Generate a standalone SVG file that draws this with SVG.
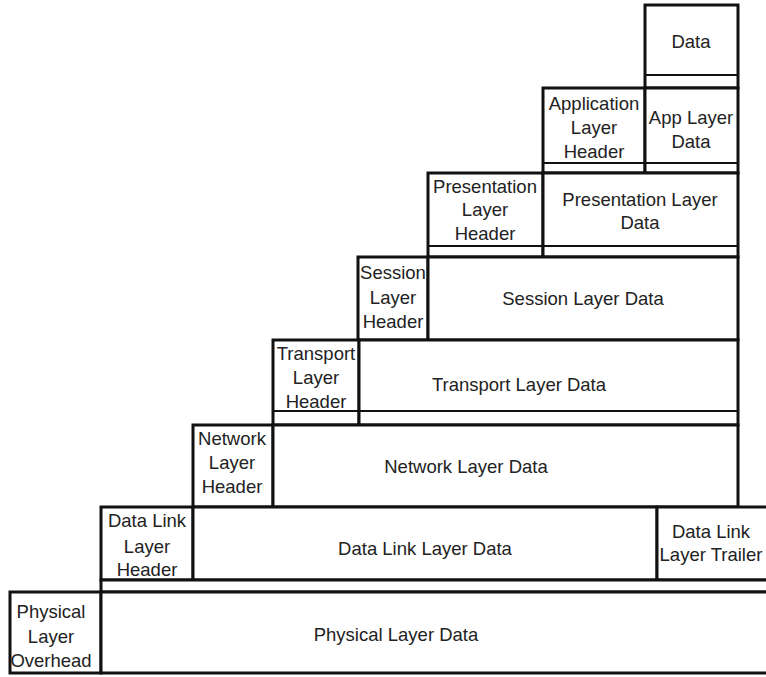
<svg xmlns="http://www.w3.org/2000/svg" width="766" height="677" viewBox="0 0 766 677">
<style>
.c{fill:#fff;stroke:#111;stroke-width:3}
.b{fill:none;stroke:#111;stroke-width:2.2}
text{font-family:"Liberation Sans",Arial,sans-serif;font-size:18.5px;fill:#222;text-anchor:middle}
</style>
<rect width="766" height="677" fill="#fff"/>
<g id="data">
<rect class="c" x="645" y="5" width="93" height="83"/>
<line class="b" x1="645" y1="75" x2="738" y2="75"/>
<text x="691" y="48">Data</text>
</g>
<g id="app-header">
<rect class="c" x="543" y="88" width="102" height="85"/>
<text x="594" y="110">Application</text>
<text x="594" y="134">Layer</text>
<text x="594" y="158">Header</text>
</g>
<g id="app-data">
<rect class="c" x="645" y="88" width="93" height="85"/>
<text x="691" y="124">App Layer</text>
<text x="691" y="148">Data</text>
</g>
<line class="b" x1="543" y1="163" x2="738" y2="163"/>
<g id="pres-header">
<rect class="c" x="428" y="173" width="115" height="84"/>
<text x="485" y="193">Presentation</text>
<text x="485" y="216">Layer</text>
<text x="485" y="240">Header</text>
</g>
<g id="pres-data">
<rect class="c" x="543" y="173" width="195" height="84"/>
<text x="640" y="206">Presentation Layer</text>
<text x="640" y="229">Data</text>
</g>
<line class="b" x1="428" y1="246" x2="738" y2="246"/>
<g id="session-header">
<rect class="c" x="358" y="257" width="70" height="83"/>
<text x="393" y="279">Session</text>
<text x="393" y="304">Layer</text>
<text x="393" y="328">Header</text>
</g>
<g id="session-data">
<rect class="c" x="428" y="257" width="310" height="83"/>
<text x="583" y="305">Session Layer Data</text>
</g>
<g id="transport-header">
<rect class="c" x="273" y="340" width="86" height="85"/>
<text x="316" y="360">Transport</text>
<text x="316" y="384">Layer</text>
<text x="316" y="408">Header</text>
</g>
<g id="transport-data">
<rect class="c" x="359" y="340" width="379" height="85"/>
<text x="519" y="391">Transport Layer Data</text>
</g>
<line class="b" x1="273" y1="411" x2="738" y2="411"/>
<g id="network-header">
<rect class="c" x="193" y="425" width="80" height="82"/>
<text x="232" y="445">Network</text>
<text x="232" y="469">Layer</text>
<text x="232" y="493">Header</text>
</g>
<g id="network-data">
<rect class="c" x="273" y="425" width="465" height="82"/>
<text x="466" y="473">Network Layer Data</text>
</g>
<g id="datalink-header">
<rect class="c" x="101" y="507" width="92" height="73"/>
<text x="147" y="527">Data Link</text>
<text x="147" y="553">Layer</text>
<text x="147" y="576">Header</text>
</g>
<g id="datalink-data">
<rect class="c" x="193" y="507" width="464" height="73"/>
<text x="425" y="555">Data Link Layer Data</text>
</g>
<g id="datalink-trailer">
<rect class="c" x="657" y="507" width="115" height="73"/>
<text x="711" y="538">Data Link</text>
<text x="711" y="561">Layer Trailer</text>
</g>
<rect class="c" x="101" y="580" width="671" height="12"/>
<g id="physical-overhead">
<rect class="c" x="10" y="592" width="91" height="81"/>
<text x="51" y="618">Physical</text>
<text x="51" y="643">Layer</text>
<text x="51" y="667">Overhead</text>
</g>
<g id="physical-data">
<rect class="c" x="101" y="592" width="671" height="81"/>
<text x="396" y="641">Physical Layer Data</text>
</g>
<g id="connectors"/>
</svg>
